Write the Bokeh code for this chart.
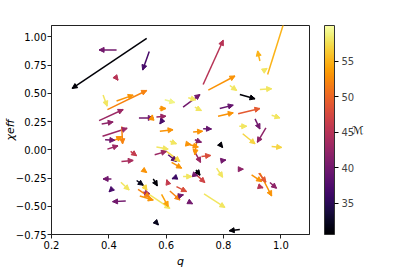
from bokeh.plotting import figure
from bokeh.models import (ColumnDataSource, Arrow, NormalHead, LinearColorMapper, ColorBar,
                          FixedTicker, Range1d, LinearAxis)
from bokeh.palettes import Inferno256
from bokeh.transform import transform
from bokeh.embed import file_html
from bokeh.resources import INLINE

# ---- data ----
q_start = [0.532, 0.427, 0.541, 0.428, 0.380, 0.395, 0.427, 0.595, 0.366, 0.576,
           0.505, 0.549, 0.566, 0.375, 0.589, 0.378, 0.445, 0.387, 0.421, 0.395,
           0.476, 0.444, 0.409, 0.410, 0.459, 0.442, 0.497, 0.520, 0.520, 0.555,
           0.519, 0.502, 0.508, 0.543, 0.584, 0.605, 0.566, 0.630, 0.613, 0.636,
           0.654, 0.578, 0.613, 0.566, 0.560, 0.607, 0.601, 0.619, 0.671, 0.694,
           0.729, 0.855, 0.910, 0.867, 0.948, 0.968, 0.683, 0.700, 0.706, 0.697,
           0.723, 0.787, 0.799, 0.776, 0.851, 0.704, 0.700, 0.706, 0.659, 0.898,
           0.927, 0.923, 0.962, 0.933, 0.732, 0.689, 0.857, 0.729, 0.954, 0.927,
           0.940, 0.747, 0.822, 0.927, 0.857, 0.659, 0.677, 0.700, 0.787, 0.781,
           0.851, 0.968]
chi_start = [0.985, 0.884, 0.869, 0.629, 0.484, 0.356, 0.431, 0.442, 0.258, 0.365,
             0.282, 0.264, 0.291, 0.229, 0.269, 0.119, 0.206, 0.089, 0.086, 0.006,
             -0.014, -0.103, -0.258, -0.350, -0.454, -0.287, -0.272, -0.311, -0.178, -0.258,
             -0.376, -0.350, -0.409, -0.400, -0.394, -0.287, -0.646, -0.247, -0.365, -0.326,
             -0.403, 0.164, 0.075, 0.024, -0.044, -0.044, -0.014, -0.112, 0.053, 0.157,
             0.187, 0.208, 0.273, 0.142, 0.193, 0.030, 0.044, 0.089, 0.066, -0.005,
             -0.059, 0.051, -0.094, -0.163, -0.172, -0.178, -0.222, -0.222, -0.237, -0.222,
             -0.207, -0.207, -0.290, -0.332, -0.391, -0.474, -0.706, 0.578, 0.667, 0.786,
             0.700, 0.528, 0.569, 0.534, 0.489, 0.377, 0.460, 0.377, 0.365, 0.297,
             0.318, 0.306]
q_end = [0.272, 0.366, 0.518, 0.432, 0.394, 0.532, 0.485, 0.630, 0.450, 0.599,
         0.555, 0.552, 0.599, 0.415, 0.578, 0.464, 0.448, 0.421, 0.445, 0.432,
         0.497, 0.485, 0.380, 0.401, 0.413, 0.471, 0.520, 0.533, 0.532, 0.569,
         0.543, 0.543, 0.555, 0.613, 0.607, 0.602, 0.573, 0.621, 0.648, 0.671,
         0.660, 0.624, 0.636, 0.607, 0.601, 0.636, 0.648, 0.654, 0.686, 0.727,
         0.758, 0.881, 0.927, 0.910, 0.918, 1.003, 0.712, 0.723, 0.700, 0.720,
         0.755, 0.797, 0.808, 0.797, 0.869, 0.718, 0.710, 0.735, 0.689, 0.933,
         0.968, 0.948, 0.985, 0.938, 0.805, 0.692, 0.820, 0.799, 1.013, 0.919,
         0.952, 0.840, 0.846, 0.968, 0.910, 0.718, 0.704, 0.723, 0.834, 0.834,
         0.927, 0.997]
chi_end = [0.543, 0.884, 0.706, 0.616, 0.386, 0.525, 0.484, 0.418, 0.356, 0.365,
           0.282, 0.308, 0.297, 0.246, 0.229, 0.190, 0.053, 0.084, 0.117, 0.036,
           -0.053, -0.094, -0.258, -0.372, -0.459, -0.356, -0.314, -0.359, -0.201, -0.320,
           -0.390, -0.421, -0.445, -0.519, -0.504, -0.265, -0.665, -0.256, -0.445, -0.370,
           -0.399, 0.178, 0.053, 0.006, -0.014, -0.103, -0.103, -0.163, 0.046, 0.164,
           0.184, 0.208, 0.184, 0.053, 0.066, 0.021, 0.024, 0.066, -0.044, -0.112,
           -0.050, 0.020, -0.090, -0.243, -0.172, -0.225, -0.229, -0.290, -0.237, -0.281,
           -0.409, -0.287, -0.341, -0.336, -0.510, -0.478, -0.717, 0.970, 1.144, 0.875,
           0.720, 0.653, 0.525, 0.540, 0.451, 0.489, 0.442, 0.347, 0.395, 0.327,
           0.365, 0.282]
chirp_mass = [31, 40, 37, 45, 58, 52, 53, 59, 43, 53,
              40, 53, 43, 42, 37, 43, 52, 40, 53, 43,
              46, 44, 40, 37, 40, 58, 32, 57, 53, 31,
              44, 52, 53, 58, 54, 46, 32, 36, 52, 48,
              40, 53, 58, 58, 43, 38, 57, 53, 53, 53,
              39, 58, 40, 57, 42, 57, 53, 41, 53, 43,
              48, 31, 40, 58, 42, 31, 40, 47, 58, 53,
              53, 49, 42, 45, 58, 40, 31, 45, 55, 55,
              58, 53, 58, 58, 31, 40, 58, 58, 39, 53,
              49, 58]

x_ticks = [0.2, 0.4, 0.6, 0.8, 1.0]
x_tick_labels = ["0.2", "0.4", "0.6", "0.8", "1.0"]
y_ticks = [-0.75, -0.5, -0.25, 0.0, 0.25, 0.5, 0.75, 1.0]
y_tick_labels = ["\u22120.75", "\u22120.50", "\u22120.25", "0.00", "0.25", "0.50", "0.75", "1.00"]
cbar_ticks = [35, 40, 45, 50, 55]
cbar_label = "\u2133"
M_low, M_high = 30.6, 60.0
x_limits = (0.2, 1.1)
y_limits = (-0.75, 1.1)

FONT = "DejaVu Sans"

mapper = LinearColorMapper(palette=Inferno256, low=M_low, high=M_high)
src = ColumnDataSource(dict(x0=q_start, y0=chi_start, x1=q_end, y1=chi_end, M=chirp_mass))

# heads are only drawn for arrows whose tip lies inside the axes (matplotlib clips the rest)
inside = [i for i in range(len(q_end))
          if x_limits[0] <= q_end[i] <= x_limits[1] and y_limits[0] <= chi_end[i] <= y_limits[1]]
head_src = ColumnDataSource(dict(x0=[q_start[i] for i in inside], y0=[chi_start[i] for i in inside],
                                 x1=[q_end[i] for i in inside], y1=[chi_end[i] for i in inside],
                                 M=[chirp_mass[i] for i in inside]))

p = figure(frame_width=258, frame_height=209,
           x_range=Range1d(*x_limits), y_range=Range1d(*y_limits),
           output_backend="svg", toolbar_location=None,
           min_border_top=25, min_border_left=0, min_border_bottom=0, min_border_right=0)
p.grid.visible = False
p.outline_line_color = "#222222"
p.outline_line_width = 1
p.background_fill_color = "white"
p.border_fill_color = "white"

for ax in (p.xaxis[0], p.yaxis[0]):
    ax.major_label_text_font = FONT
    ax.major_label_text_font_size = "10px"
    ax.major_label_text_color = "black"
    ax.axis_label_text_font = FONT
    ax.axis_label_text_font_size = "11px"
    ax.axis_label_text_font_style = "italic"
    ax.axis_label_text_color = "black"
    ax.minor_tick_line_color = None
    ax.major_tick_in = 0
    ax.major_tick_out = 4
    ax.major_tick_line_color = "#222222"
    ax.axis_line_color = "#222222"
    ax.major_label_standoff = 2
    ax.axis_label_standoff = 3

p.yaxis.major_label_standoff = 1
p.yaxis.axis_label_standoff = -4

p.xaxis.ticker = FixedTicker(ticks=x_ticks)
p.xaxis.major_label_overrides = dict(zip(x_ticks, x_tick_labels))
p.yaxis.ticker = FixedTicker(ticks=y_ticks)
p.yaxis.major_label_overrides = dict(zip(y_ticks, y_tick_labels))
p.xaxis.axis_label = "q"
p.yaxis.axis_label = "\u03c7eff"

cmap = transform("M", mapper)
p.segment(x0="x0", y0="y0", x1="x1", y1="y1", source=src, line_color=cmap, line_width=1.5)
heads = Arrow(source=head_src, x_start="x0", y_start="y0", x_end="x1", y_end="y1",
              line_alpha=0, line_width=0,
              end=NormalHead(size=5, fill_color=cmap, line_color=cmap, line_width=1))
p.add_layout(heads)

cb = ColorBar(color_mapper=mapper, ticker=FixedTicker(ticks=cbar_ticks),
              width=10, height=209, padding=0, margin=0, location=(15, 0),
              major_tick_in=0, major_tick_out=4, major_tick_line_color="black",
              bar_line_color="#333333", border_line_color=None,
              label_standoff=3, major_label_text_font=FONT,
              major_label_text_font_size="10px", background_fill_color=None)
p.add_layout(cb, "right")

# colour-bar label: a bare axis placed to the right of the colour bar
lab_axis = LinearAxis(ticker=FixedTicker(ticks=[]), axis_label=cbar_label,
                      axis_line_color=None, major_tick_line_color=None,
                      minor_tick_line_color=None, major_label_text_font_size="0px",
                      axis_label_text_font=FONT, axis_label_text_font_size="11px",
                      axis_label_text_font_style="italic", axis_label_text_color="black",
                      axis_label_standoff=-6, axis_label_orientation="horizontal")
p.add_layout(lab_axis, "right")

open("out.html", "w").write(file_html(p, INLINE))
